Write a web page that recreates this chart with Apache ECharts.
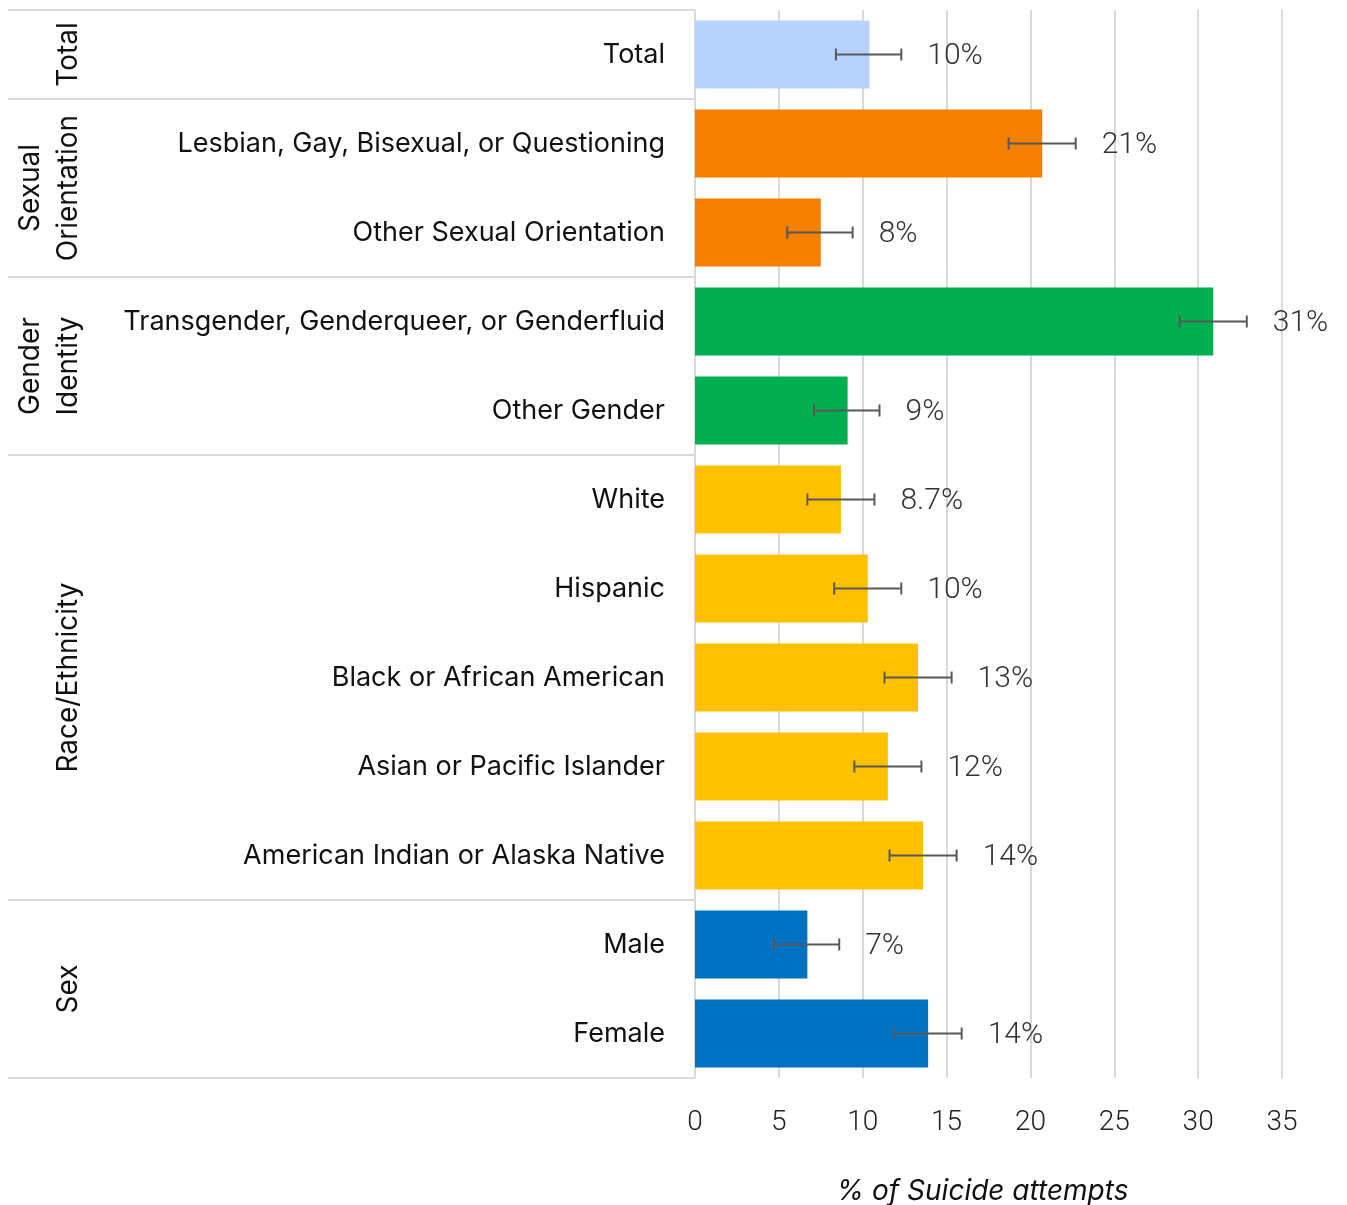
<!DOCTYPE html>
<html>
<head>
<meta charset="utf-8">
<script src="https://cdn.jsdelivr.net/npm/echarts@6/dist/echarts.min.js"></script>
<style>
  html, body { margin: 0; padding: 0; background: #fff; }
  #chart { width: 1347px; height: 1205px; }
</style>
</head>
<body>
<div id="chart"></div>
<script>
const categories = [
  'Total',
  'Lesbian, Gay, Bisexual, or Questioning',
  'Other Sexual Orientation',
  'Transgender, Genderqueer, or Genderfluid',
  'Other Gender',
  'White',
  'Hispanic',
  'Black or African American',
  'Asian or Pacific Islander',
  'American Indian or Alaska Native',
  'Male',
  'Female'
]
const values = [10.4, 20.7, 7.5, 30.9, 9.1, 8.7, 10.3, 13.3, 11.5, 13.6, 6.7, 13.9]
const lower = [8.4, 18.7, 5.5, 28.9, 7.1, 6.7, 8.3, 11.3, 9.5, 11.6, 4.7, 11.9]
const upper = [12.3, 22.7, 9.4, 32.9, 11.0, 10.7, 12.3, 15.3, 13.5, 15.6, 8.6, 15.9]
const valueLabels = ['10%', '21%', '8%', '31%', '9%', '8.7%', '10%', '13%', '12%', '14%', '7%', '14%']
const barColors = ['#b7d3fd', '#f57f00', '#f57f00', '#00b050', '#00b050',
  '#ffc000', '#ffc000', '#ffc000', '#ffc000', '#ffc000', '#0070c0', '#0070c0']

// groups: label and first/last category index
const groupNames = ['Total', 'Sexual\nOrientation', 'Gender\nIdentity', 'Race/Ethnicity', 'Sex']
const groupStart = [0, 1, 3, 5, 10]
const groupEnd = [0, 2, 4, 9, 11]

const FONT = 'Inter'
const GRID_LEFT = 695
const myChart = echarts.init(document.getElementById('chart'))

const option = {
  animation: false,
  grid: { left: GRID_LEFT, right: 65, top: 10, bottom: 127, outerBoundsMode: 'none' },
  xAxis: {
    type: 'value',
    min: 0,
    max: 35,
    interval: 5,
    axisLine: { show: false },
    axisTick: { show: false },
    splitLine: { lineStyle: { color: '#d9d9d9', width: 2 } },
    axisLabel: { margin: 31, fontFamily: 'Roboto', fontWeight: 300, fontSize: 28, color: '#222' },
    name: '% of Suicide attempts',
    nameLocation: 'middle',
    nameGap: 100,
    nameTextStyle: { fontFamily: FONT, fontStyle: 'italic', fontSize: 28, color: '#111', padding: [0, 12, 0, 0] }
  },
  yAxis: {
    type: 'category',
    inverse: true,
    data: categories,
    axisLine: { show: false },
    axisTick: { show: false },
    axisLabel: { margin: 30, fontFamily: FONT, fontSize: 27, color: '#111' }
  },
  series: [
    {
      type: 'bar',
      barCategoryGap: '23.5%',
      data: values.map((v, i) => ({ value: v, itemStyle: { color: barColors[i] } }))
    },
    {
      type: 'custom',
      z: 5,
      data: categories.map((c, i) => [i, lower[i], upper[i]]),
      encode: { y: 0, x: [1, 2] },
      renderItem: (params, api) => {
        const idx = api.value(0)
        const p0 = api.coord([api.value(1), idx])
        const p1 = api.coord([api.value(2), idx])
        const style = { stroke: '#595959', lineWidth: 2 }
        return {
          type: 'group',
          children: [
            { type: 'line', shape: { x1: p0[0], y1: p0[1], x2: p1[0], y2: p1[1] }, style },
            { type: 'line', shape: { x1: p0[0], y1: p0[1] - 6, x2: p0[0], y2: p0[1] + 6 }, style },
            { type: 'line', shape: { x1: p1[0], y1: p1[1] - 6, x2: p1[0], y2: p1[1] + 6 }, style },
            {
              type: 'text',
              x: p1[0] + 26,
              y: p1[1] + 2,
              style: {
                text: valueLabels[params.dataIndex],
                fontFamily: 'Roboto',
                fontWeight: 300,
                fontSize: 30,
                fill: '#333',
                verticalAlign: 'middle'
              }
            }
          ]
        }
      }
    }
  ]
}

myChart.setOption(option)

// table lines and group labels on the left, placed through the category axis
function drawTable() {
  const band = myChart.convertToPixel({ yAxisIndex: 0 }, 1) - myChart.convertToPixel({ yAxisIndex: 0 }, 0)
  const elements = []
  const edges = [groupStart[0]].concat(groupEnd.map(e => e + 1))
  edges.forEach(k => {
    const y = myChart.convertToPixel({ yAxisIndex: 0 }, k) - band / 2
    elements.push({
      type: 'line',
      shape: { x1: 8, y1: y, x2: GRID_LEFT, y2: y },
      style: { stroke: '#d9d9d9', lineWidth: 2 },
      silent: true
    })
  })
  groupNames.forEach((name, i) => {
    const y0 = myChart.convertToPixel({ yAxisIndex: 0 }, groupStart[i])
    const y1 = myChart.convertToPixel({ yAxisIndex: 0 }, groupEnd[i])
    elements.push({
      type: 'text',
      x: 88,
      y: (y0 + y1) / 2,
      rotation: Math.PI / 2,
      style: {
        text: name,
        fontFamily: FONT,
        fontSize: 28,
        lineHeight: 38,
        fill: '#111',
        align: 'center',
        verticalAlign: 'bottom'
      },
      silent: true
    })
  })
  myChart.setOption({ graphic: elements })
}
drawTable()
</script>
</body>
</html>
